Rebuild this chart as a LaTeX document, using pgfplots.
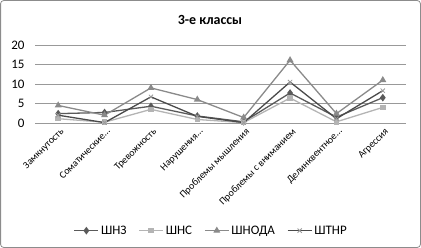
\documentclass[border=0pt]{standalone}
\usepackage{fontspec}
\setmainfont{Carlito}
\usepackage{pgfplots}
\pgfplotsset{compat=1.18}
\definecolor{cA}{HTML}{5A5A5A}
\definecolor{cB}{HTML}{B4B4B4}
\definecolor{cC}{HTML}{8A8A8A}
\definecolor{cD}{HTML}{4A4A4A}
\definecolor{cDm}{HTML}{9A9A9A}
\begin{document}
\begin{tikzpicture}[x=1bp,y=1bp]
\useasboundingbox (0,0) rectangle (421,248);
\draw[color=black!45, line width=0.8bp, rounded corners=3bp] (0.6,0.6) rectangle (420.4,247.4);
\node[font=\bfseries\fontsize{14bp}{16bp}\selectfont] at (210,228) {3-е классы};
\begin{axis}[
  at={(35bp,125bp)}, anchor=south west,
  scale only axis, width=371bp, height=78bp,
  xmin=-0.5, xmax=7.5, ymin=0, ymax=20,
  ytick={0,5,10,15,20},
  xtick={0,...,7},
  xticklabels={Замкнутость,Соматические…,Тревожность,Нарушения…,Проблемы мышления,Проблемы с вниманием,Делинквентное…,Агрессия},
  xticklabel style={rotate=45, anchor=north east, font=\fontsize{10bp}{12bp}\selectfont, inner sep=1pt, yshift=-3pt, xshift=-1pt},
  yticklabel style={font=\fontsize{13bp}{15bp}\selectfont, xshift=-7bp},
  /pgf/number format/assume math mode=true,
  axis line style={draw=none},
  axis x line*=bottom,
  x axis line style={draw=black!40},
  ymajorgrids, grid style={black!40, line width=0.6bp},
  major tick length=0pt,
  clip=false,
  legend columns=4,
  legend style={draw=none, at={(0.475,-1.38)}, anchor=center, font=\fontsize{13bp}{15bp}\selectfont, inner sep=1pt,
    /tikz/every even column/.append style={column sep=10bp}},
  legend image code/.code={\draw[#1, mark repeat=2, mark phase=2] plot coordinates {(0bp,0bp) (12bp,0bp) (24bp,0bp)};},
  every axis plot/.append style={line width=1.3bp, mark size=2.3bp},
]
\addplot[color=cA, mark=diamond*, mark size=2.8bp] coordinates {(0,2.4) (1,2.7) (2,4.3) (3,1.8) (4,0.3) (5,7.7) (6,1.5) (7,6.5)};
\addlegendentry{ШНЗ}
\addplot[color=cB, mark=square*, mark size=2.1bp] coordinates {(0,1.1) (1,0.2) (2,3.5) (3,0.9) (4,0.1) (5,6.4) (6,0.3) (7,4.0)};
\addlegendentry{ШНС}
\addplot[color=cC, mark=triangle*, mark size=2.8bp] coordinates {(0,4.5) (1,2.0) (2,9.0) (3,6.0) (4,1.4) (5,16.1) (6,2.4) (7,11.0)};
\addlegendentry{ШНОДА}
\addplot[color=cD, mark=x, mark size=3bp, mark options={color=cDm, line width=0.8bp}] coordinates {(0,2.0) (1,0.1) (2,6.7) (3,1.7) (4,0.1) (5,10.5) (6,1.1) (7,8.3)};
\addlegendentry{ШТНР}
\end{axis}
\end{tikzpicture}
\end{document}
